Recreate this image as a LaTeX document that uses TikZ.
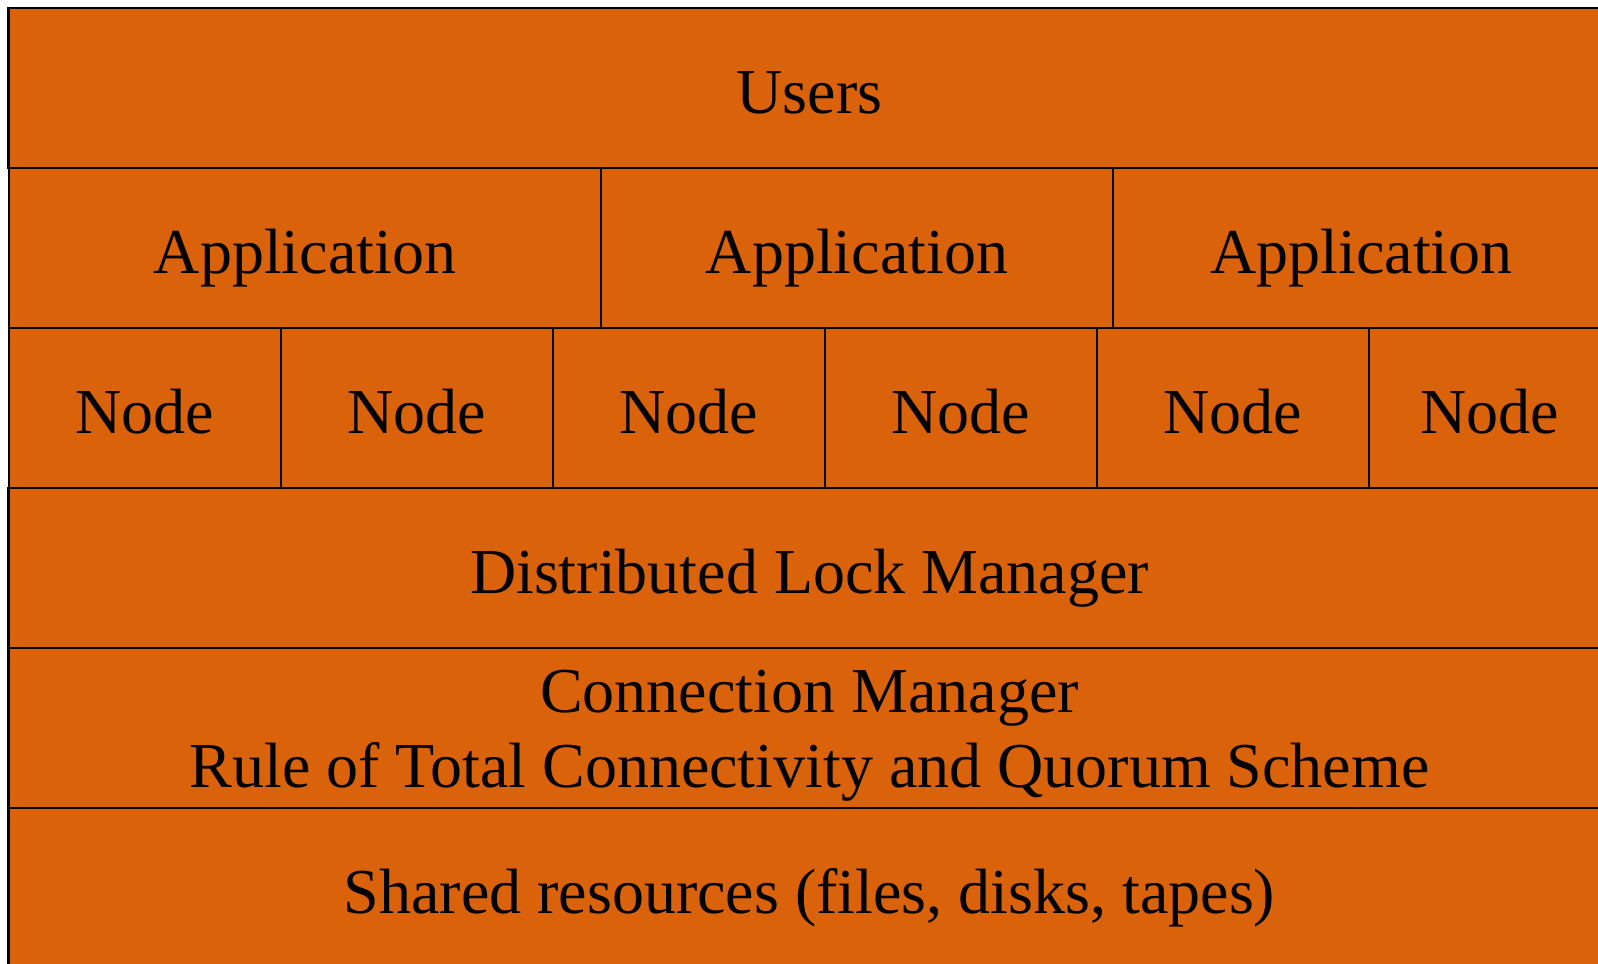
\documentclass[tikz,border=0pt]{standalone}
\usepackage{fontspec}
\setmainfont{Liberation Serif}
\usepackage{tikz}
\definecolor{rust}{HTML}{D9620B}
\tikzstyle{layer} = [draw,fill=rust,line width=0.6pt,inner sep=0pt,minimum height=1.6cm,text height=0.5cm,text depth=0pt,font=\fontsize{18.2}{21.6}\selectfont]

\begin{document}
\begin{tikzpicture}[x=0.01cm,y=-0.01cm]
          \useasboundingbox (0,0) rectangle (1598,963);
          \clip (0,0) rectangle (1598,963);
          \node[layer, minimum width=16.01cm] at (809.5,88) (users) {Users};

          \node[layer, minimum width=5.92cm] at (305,248) (app1) {Application};
          \node[layer, minimum width=5.12cm] at (857,248) (app2) {Application};
          \node[layer, minimum width=4.97cm] at (1361.5,248) (app3) {Application};

          \node[layer, minimum width=2.72cm] at (145,408) (n1) {Node};
          \node[layer, minimum width=2.72cm] at (417,408) (n2) {Node};
          \node[layer, minimum width=2.72cm] at (689,408) (n3) {Node};
          \node[layer, minimum width=2.72cm] at (961,408) (n4) {Node};
          \node[layer, minimum width=2.72cm] at (1233,408) (n5) {Node};
          \node[layer, minimum width=2.41cm] at (1489.5,408) (n6) {Node};

          \node[layer, minimum width=16.01cm] at (809.5,568) (dlm) {Distributed Lock Manager};
          \node[layer, minimum width=16.01cm, text width=16.01cm, align=flush center, text depth=0.82cm] at (809.5,728) (conn) {Connection Manager\\Rule of Total Connectivity and Quorum Scheme};
          \node[layer, minimum width=16.01cm] at (809.5,888) (shared) {Shared resources (files, disks, tapes)};
        \end{tikzpicture}
\end{document}
